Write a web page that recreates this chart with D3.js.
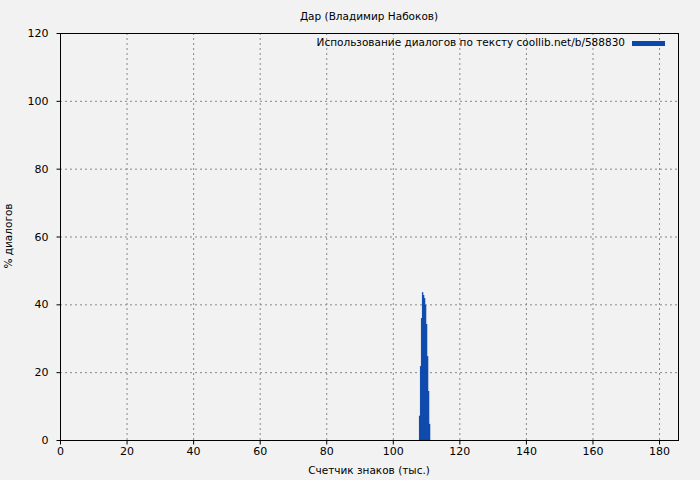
<!DOCTYPE html>
<html><head><meta charset="utf-8">
<script src="https://cdn.jsdelivr.net/npm/d3@7"></script>
<style>body{margin:0;background:#f2f2f2;} svg{display:block;font-family:"DejaVu Sans",sans-serif;}</style>
</head><body>
<svg id="c" width="700" height="480"></svg>
<script>
const title = "Дар (Владимир Набоков)";
const xLabel = "Счетчик знаков (тыс.)";
const yLabel = "% диалогов";
const legendLabel = "Использование диалогов по тексту coollib.net/b/588830";
const barX = [107.9, 108.2, 108.5, 108.8, 109.1, 109.4, 109.7, 110.0, 110.3, 110.6, 110.9];
const barY = [7.1, 21.6, 35.9, 43.4, 42.7, 41.7, 39.8, 34.1, 24.6, 14.4, 4.7];
const barW = 0.3;
const xTicks = [0,20,40,60,80,100,120,140,160,180];
const yTicks = [0,20,40,60,80,100,120];
const xDomain = [0, 185.7];
const yDomain = [0, 120];

const svg = d3.select("#c");
const L=60, R=678, T=33, B=440;
const x = d3.scaleLinear().domain(xDomain).range([L,R]);
const y = d3.scaleLinear().domain(yDomain).range([B,T]);
const color = "#0a47ab";

svg.append("rect").attr("width",700).attr("height",480).attr("fill","#f2f2f2");

// grid
const g = svg.append("g");
g.selectAll(".gx").data(xTicks.filter(d=>d>0)).join("line")
  .attr("x1",d=>x(d)+0.5).attr("x2",d=>x(d)+0.5).attr("y1",T).attr("y2",B)
  .attr("stroke","#888").attr("stroke-width",1).attr("stroke-dasharray","2,3");
g.selectAll(".gy").data(yTicks.filter(d=>d>0&&d<120)).join("line")
  .attr("y1",d=>y(d)+0.5).attr("y2",d=>y(d)+0.5).attr("x1",L).attr("x2",R)
  .attr("stroke","#888").attr("stroke-width",1).attr("stroke-dasharray","2,3");

// bars
svg.append("g").selectAll("rect").data(barX.map((v,i)=>({x:v,y:barY[i]}))).join("rect")
  .attr("x",d=>x(d.x)).attr("width",d=>x(d.x+barW)-x(d.x))
  .attr("y",d=>y(d.y)).attr("height",d=>y(0)-y(d.y))
  .attr("fill",color).attr("stroke",color).attr("stroke-width",0.3);

// axes
const xa = svg.append("g").attr("transform",`translate(0,${B+0.5})`)
  .call(d3.axisBottom(x).tickValues(xTicks).tickSize(4).tickSizeOuter(0).tickPadding(3));
const ya = svg.append("g").attr("transform",`translate(${L+0.5},0)`)
  .call(d3.axisLeft(y).tickValues(yTicks).tickSize(4).tickSizeOuter(0).tickPadding(8));
[xa,ya].forEach(a=>{
  a.select(".domain").remove();
  a.selectAll("text").attr("font-size",11).attr("font-family","DejaVu Sans, sans-serif").attr("fill","#000");
  a.selectAll("line").attr("stroke","#000");
});
svg.append("rect").attr("x",L+0.5).attr("y",T+0.5).attr("width",R-L).attr("height",B-T)
  .attr("fill","none").attr("stroke","#000").attr("stroke-width",1);

// titles
svg.append("text").attr("x",(L+R)/2).attr("y",20).attr("text-anchor","middle")
  .attr("font-size",10.5).text(title);
svg.append("text").attr("x",(L+R)/2).attr("y",474).attr("text-anchor","middle")
  .attr("font-size",10.5).text(xLabel);
svg.append("text").attr("transform",`translate(12,${236}) rotate(-90)`).attr("text-anchor","middle")
  .attr("font-size",10.5).text(yLabel);

// legend
svg.append("text").attr("x",625).attr("y",46).attr("text-anchor","end")
  .attr("font-size",10.5).text(legendLabel);
svg.append("line").attr("x1",632).attr("x2",665).attr("y1",43.5).attr("y2",43.5)
  .attr("stroke",color).attr("stroke-width",5);
</script>
</body></html>
